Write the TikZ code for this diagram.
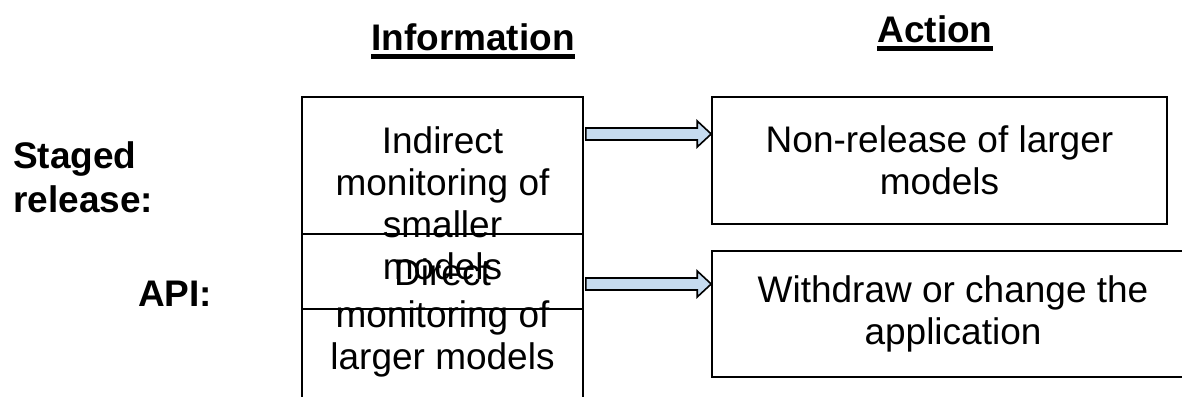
\documentclass[tikz,border=0pt]{standalone}
\usepackage{fontspec}
\setmainfont{Liberation Sans}
\usetikzlibrary{calc}
\definecolor{arrow_blue}{HTML}{C6DBEF}

\tikzset{
  box/.style={draw, line width=1.6pt, inner sep=0pt, align=center, font=\fontsize{37}{42}\selectfont},
  heading/.style={inner sep=0pt, font=\fontsize{37}{42}\selectfont\bfseries},
  rowlabel/.style={inner sep=0pt, align=left, font=\fontsize{37}{44}\selectfont\bfseries},
  fatarrow/.style={draw, line width=1.6pt, fill=arrow_blue, line join=miter},
}
% block arrow between two points at the height of the first one
\newcommand{\fatarrow}[2]{%
  \draw [fatarrow] let \p1=(#1), \p2=(#2) in
    (\x1+2pt,\y1+6pt) -- (\x2-14pt,\y1+6pt) -- (\x2-14pt,\y1+13pt) -- (\x2,\y1)
    -- (\x2-14pt,\y1-13pt) -- (\x2-14pt,\y1-6pt) -- (\x1+2pt,\y1-6pt) -- cycle;}

\begin{document}
\begin{tikzpicture}[x=1pt, y=-1pt]
   \useasboundingbox (0,0) rectangle (1182,396);
   \clip (0,0) rectangle (1182,396);
   % column headings
   \node [heading, anchor=base] (info) at (473, 51) {Information};
   \node [heading, anchor=base] (action) at (935, 43) {Action};
   \fill ($(info.base west)+(0,3)$) rectangle ($(info.base east)+(0,8.5)$);
   \fill ($(action.base west)+(0,3)$) rectangle ($(action.base east)+(0,8.5)$);
   % row labels
   \node [rowlabel, anchor=north west] (staged) at (13, 141) {Staged\\release:};
   \node [rowlabel, anchor=base west] (api) at (138, 306) {API:};
   % information boxes
   \node [box, minimum width=281, minimum height=212] (indirect) at (442.5, 203) {Indirect\\monitoring of\\smaller\\models};
   \node [box, minimum width=281, minimum height=167] (direct) at (442.5, 317.5) {Direct\\monitoring of\\larger models};
   % action boxes
   \node [box, minimum width=455, minimum height=127] (nonrelease) at (939.5, 160.5) {Non-release of larger\\models};
   \node [box, minimum width=482, minimum height=126] (withdraw) at (953, 314) {Withdraw or change the\\application};
   % arrows
   \coordinate (lvl1) at (0, 134);
   \coordinate (lvl2) at (0, 284);
   \fatarrow{indirect.east |- lvl1}{nonrelease.west |- lvl1}
   \fatarrow{direct.east |- lvl2}{withdraw.west |- lvl2}
\end{tikzpicture}
\end{document}
